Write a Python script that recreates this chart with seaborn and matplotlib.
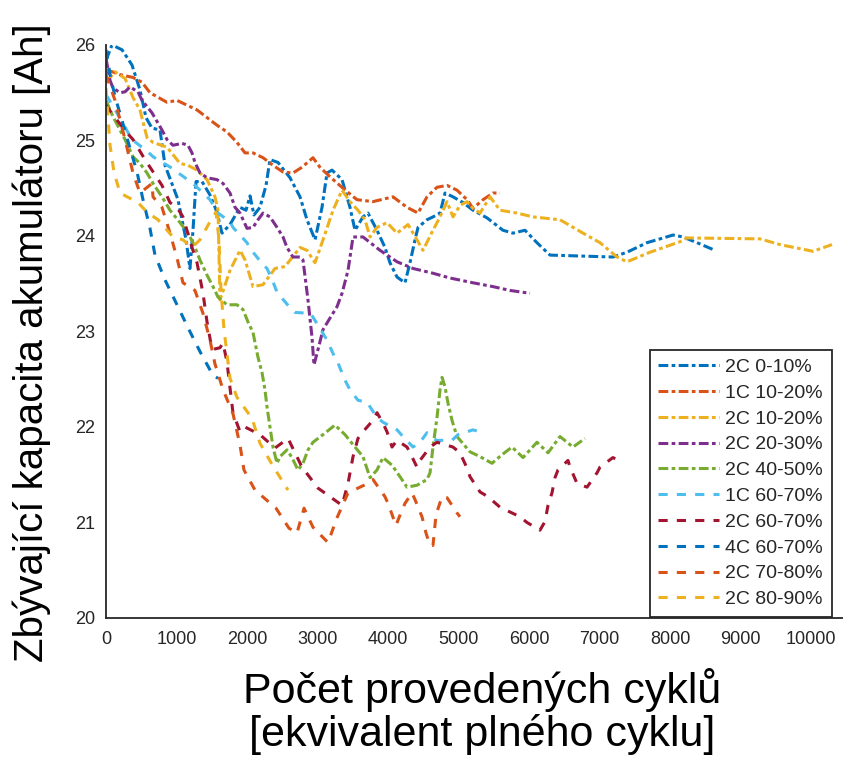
import numpy as np
import pandas as pd
import matplotlib
matplotlib.use("Agg")
import matplotlib.pyplot as plt
import seaborn as sns

# ---------------- data ----------------
series_names = ["2C 0-10%", "1C 10-20%", "2C 10-20%", "2C 20-30%", "2C 40-50%",
                "1C 60-70%", "2C 60-70%", "4C 60-70%", "2C 70-80%", "2C 80-90%"]

x_2c_0_10 = [0, 85, 227, 369, 482, 567, 652, 766, 837, 1021, 1135, 1191, 1234, 1277, 1362, 1475,
             1574, 1645, 1759, 1901, 1986, 2043, 2099, 2184, 2270, 2326, 2440, 2610, 2752, 2851,
             2965, 3064, 3135, 3206, 3348, 3461, 3532, 3645, 3716, 3844, 3957, 4028, 4128, 4241,
             4312, 4383, 4426, 4553, 4638, 4738, 4809, 4922, 5064, 5206, 5404, 5631, 5773, 5943,
             6113, 6298, 7191, 7390, 7674, 8043, 8184, 8383, 8638]
y_2c_0_10 = [25.84, 26.0, 25.95, 25.79, 25.53, 25.24, 25.13, 25.11, 24.74, 24.38, 23.96, 23.66,
             24.06, 24.57, 24.57, 24.43, 24.25, 24.03, 24.12, 24.30, 24.27, 24.42, 24.22, 24.30,
             24.53, 24.80, 24.77, 24.61, 24.41, 24.17, 23.96, 24.30, 24.66, 24.69, 24.59, 24.30,
             24.06, 24.20, 24.24, 24.06, 23.88, 23.72, 23.57, 23.51, 23.72, 23.96, 24.09, 24.17,
             24.20, 24.24, 24.45, 24.41, 24.35, 24.27, 24.19, 24.06, 24.03, 24.06, 23.93, 23.80,
             23.78, 23.83, 23.93, 24.01, 23.99, 23.93, 23.85]

x_1c_10_20 = [14, 199, 383, 511, 624, 865, 1007, 1149, 1291, 1433, 1574, 1716, 1858, 1972, 2085,
              2227, 2369, 2511, 2652, 2780, 2936, 3035, 3177, 3362, 3560, 3787, 4071, 4270, 4426,
              4553, 4695, 4837, 4979, 5121, 5206, 5348, 5489, 5589]
y_1c_10_20 = [25.74, 25.69, 25.66, 25.61, 25.50, 25.40, 25.42, 25.37, 25.32, 25.24, 25.16, 25.09,
              24.98, 24.87, 24.87, 24.82, 24.74, 24.67, 24.66, 24.72, 24.82, 24.72, 24.62, 24.50,
              24.38, 24.36, 24.41, 24.30, 24.24, 24.41, 24.51, 24.53, 24.48, 24.38, 24.29, 24.38,
              24.45, 24.45]

x_2c_10_20 = [0, 128, 270, 383, 482, 582, 667, 865, 1050, 1163, 1291, 1433, 1546, 1589, 1617, 1759,
              1901, 1972, 2085, 2227, 2397, 2539, 2752, 2851, 2965, 3078, 3220, 3348, 3461, 3574,
              3674, 3745, 3844, 3986, 4128, 4284, 4411, 4496, 4638, 4738, 4837, 4922, 5021, 5121,
              5206, 5305, 5447, 5589, 5830, 6057, 6440, 6766, 7007, 7248, 7390, 7716, 8142, 8241,
              9277, 9560, 10028, 10298]
y_2c_10_20 = [25.61, 25.72, 25.65, 25.45, 25.32, 25.03, 24.98, 24.93, 24.76, 24.74, 24.69, 24.59,
              24.41, 24.27, 23.33, 23.64, 23.85, 23.75, 23.47, 23.49, 23.66, 23.68, 23.88, 23.85,
              23.72, 23.96, 24.27, 24.48, 24.36, 24.27, 24.17, 23.99, 24.09, 24.14, 24.03, 24.12,
              23.96, 23.85, 24.06, 24.20, 24.36, 24.20, 24.32, 24.36, 24.29, 24.24, 24.41, 24.27,
              24.24, 24.20, 24.17, 24.03, 23.93, 23.78, 23.73, 23.83, 23.94, 23.98, 23.97, 23.91,
              23.84, 23.91]

x_2c_20_30 = [0, 57, 99, 199, 270, 340, 454, 511, 652, 794, 865, 950, 1078, 1163, 1220, 1262, 1333,
              1433, 1574, 1660, 1759, 1830, 1901, 2000, 2085, 2156, 2227, 2326, 2426, 2511, 2567,
              2652, 2752, 2794, 2865, 2922, 2950, 3007, 3078, 3177, 3277, 3348, 3433, 3504, 3645,
              3887, 4128, 4355, 4638, 4879, 5206, 5489, 5730, 6014]
y_2c_20_30 = [25.86, 25.63, 25.55, 25.50, 25.51, 25.56, 25.51, 25.42, 25.29, 25.11, 25.01, 24.95,
              24.97, 24.95, 24.87, 24.77, 24.66, 24.61, 24.59, 24.55, 24.45, 24.30, 24.24, 24.08,
              24.09, 24.17, 24.24, 24.20, 24.09, 23.99, 23.88, 23.78, 23.78, 23.75, 23.33, 22.94,
              22.65, 22.81, 23.02, 23.14, 23.26, 23.40, 23.64, 23.99, 23.99, 23.85, 23.73, 23.66,
              23.61, 23.56, 23.51, 23.47, 23.43, 23.40]

x_2c_40_50 = [0, 99, 199, 270, 383, 482, 582, 667, 794, 908, 1050, 1163, 1234, 1333, 1433, 1518,
              1589, 1716, 1858, 1943, 2014, 2085, 2156, 2213, 2255, 2284, 2326, 2369, 2426, 2468,
              2567, 2638, 2723, 2794, 2865, 2936, 3078, 3248, 3390, 3532, 3645, 3745, 3844, 3929,
              4057, 4170, 4270, 4411, 4553, 4596, 4638, 4695, 4738, 4766, 4809, 4851, 4908, 4979,
              5163, 5305, 5475, 5617, 5759, 5915, 6014, 6113, 6270, 6440, 6624, 6794]
y_2c_40_50 = [25.42, 25.25, 25.11, 25.01, 24.83, 24.76, 24.66, 24.55, 24.41, 24.27, 24.14, 24.03,
              23.93, 23.75, 23.59, 23.47, 23.36, 23.28, 23.28, 23.23, 23.10, 22.99, 22.73, 22.57,
              22.39, 22.21, 22.00, 21.79, 21.62, 21.69, 21.76, 21.68, 21.55, 21.62, 21.76, 21.84,
              21.92, 22.02, 21.92, 21.79, 21.69, 21.47, 21.55, 21.68, 21.60, 21.48, 21.37, 21.39,
              21.45, 21.52, 21.79, 22.10, 22.39, 22.52, 22.42, 22.25, 22.07, 21.90, 21.74, 21.69,
              21.62, 21.71, 21.79, 21.68, 21.76, 21.84, 21.73, 21.90, 21.79, 21.88]

x_1c_60_70 = [0, 170, 369, 596, 667, 936, 1007, 1234, 1291, 1475, 1589, 1759, 1801, 2000, 2043,
              2227, 2284, 2369, 2426, 2610, 2681, 2894, 2936, 3078, 3135, 3220, 3291, 3390, 3461,
              3574, 3702, 3844, 3929, 4128, 4213, 4355, 4454, 4553, 4638, 4695, 4908, 4993, 5206,
              5348]
y_1c_60_70 = [25.48, 25.27, 25.01, 24.88, 24.83, 24.71, 24.67, 24.55, 24.51, 24.38, 24.24, 24.15,
              24.09, 23.93, 23.87, 23.70, 23.66, 23.52, 23.41, 23.25, 23.20, 23.19, 23.15, 22.98,
              22.91, 22.77, 22.67, 22.49, 22.39, 22.28, 22.26, 22.10, 22.05, 21.97, 21.90, 21.79,
              21.84, 21.94, 21.88, 21.86, 21.86, 21.92, 21.97, 21.94]

x_2c_60_70 = [0, 128, 298, 383, 553, 723, 794, 908, 1007, 1092, 1220, 1291, 1376, 1433, 1504, 1617,
              1660, 1716, 1759, 1801, 1901, 1972, 2184, 2397, 2582, 2780, 3007, 3291, 3348, 3433,
              3504, 3574, 3645, 3787, 3844, 3929, 3986, 4057, 4128, 4270, 4312, 4411, 4454, 4596,
              4695, 4922, 5021, 5121, 5163, 5305, 5418, 5589, 5872, 5972, 6156, 6227, 6270, 6326,
              6369, 6411, 6553, 6582, 6681, 6823, 6965, 7007, 7191, 7333]
y_2c_60_70 = [25.37, 25.24, 25.08, 25.01, 24.80, 24.61, 24.53, 24.35, 24.30, 24.20, 23.88, 23.72,
              23.40, 23.10, 22.81, 22.83, 22.88, 22.68, 22.41, 22.15, 21.95, 22.00, 21.92, 21.78,
              21.88, 21.58, 21.36, 21.21, 21.18, 21.41, 21.69, 21.88, 21.95, 22.07, 22.15, 22.04,
              21.95, 21.79, 21.86, 21.79, 21.73, 21.58, 21.65, 21.79, 21.84, 21.79, 21.73, 21.57,
              21.48, 21.32, 21.27, 21.16, 21.06, 21.00, 20.92, 21.01, 21.18, 21.31, 21.47, 21.55,
              21.65, 21.58, 21.41, 21.37, 21.52, 21.58, 21.68, 21.62]

x_4c_60_70 = [0, 57, 128, 227, 340, 440, 525, 624, 695, 837, 1007, 1163, 1333, 1518, 1589]
y_4c_60_70 = [25.95, 25.69, 25.46, 25.21, 24.92, 24.67, 24.38, 24.08, 23.80, 23.54, 23.28, 23.04,
              22.79, 22.54, 22.51]

x_2c_70_80 = [0, 128, 270, 383, 482, 652, 667, 794, 908, 1007, 1092, 1262, 1376, 1475, 1546, 1660,
              1801, 1901, 1957, 2113, 2411, 2596, 2709, 2809, 2936, 3149, 3277, 3433, 3461, 3716,
              3787, 3957, 4000, 4113, 4199, 4241, 4340, 4383, 4482, 4539, 4596, 4638, 4681, 4766,
              4837, 4979, 5021]
y_2c_70_80 = [25.69, 25.42, 25.01, 24.66, 24.45, 24.55, 24.41, 24.30, 24.03, 23.77, 23.51, 23.43,
              23.19, 22.91, 22.66, 22.39, 22.14, 21.81, 21.55, 21.34, 21.15, 20.94, 20.89, 21.15,
              20.95, 20.79, 21.05, 21.31, 21.32, 21.41, 21.45, 21.27, 21.20, 20.97, 21.13, 21.20,
              21.31, 21.24, 21.06, 20.89, 20.76, 20.76, 21.08, 21.27, 21.26, 21.10, 21.06]

x_2c_80_90 = [0, 57, 113, 199, 454, 582, 738, 950, 1092, 1220, 1333, 1475, 1560, 1603, 1631, 1674,
              1759, 1858, 2071, 2184, 2369, 2582]
y_2c_80_90 = [25.55, 24.95, 24.67, 24.45, 24.35, 24.25, 24.17, 23.99, 23.96, 23.88, 23.96, 24.15,
              24.25, 23.96, 23.43, 23.02, 22.51, 22.31, 22.09, 21.83, 21.59, 21.34]

x_ticks = [0, 1000, 2000, 3000, 4000, 5000, 6000, 7000, 8000, 9000, 10000]
y_ticks = [20, 21, 22, 23, 24, 25, 26]

x_label = "Počet provedených cyklů\n[ekvivalent plného cyklu]"
y_label = "Zbývající kapacita akumulátoru [Ah]"

# ---------------- styling ----------------
colors = ["#0072BD", "#D95319", "#EDB120", "#7E2F8E", "#77AC30",
          "#4DBEEE", "#A2142F", "#0072BD", "#D95319", "#EDB120"]
dash_dot = (3.2, 1.1, 1.2, 1.1)
dashed = (3.0, 3.0)
styles = [dash_dot] * 5 + [dashed] * 5

xs = [x_2c_0_10, x_1c_10_20, x_2c_10_20, x_2c_20_30, x_2c_40_50,
      x_1c_60_70, x_2c_60_70, x_4c_60_70, x_2c_70_80, x_2c_80_90]
ys = [y_2c_0_10, y_1c_10_20, y_2c_10_20, y_2c_20_30, y_2c_40_50,
      y_1c_60_70, y_2c_60_70, y_4c_60_70, y_2c_70_80, y_2c_80_90]

frames = [pd.DataFrame({"x": x, "y": y, "series": n}) for n, x, y in zip(series_names, xs, ys)]
df = pd.concat(frames, ignore_index=True)

sns.set_theme(style="white")
plt.rcParams["font.family"] = ["Liberation Sans", "DejaVu Sans"]
plt.rcParams["text.color"] = "#000000"

W, H = 843, 758
fig = plt.figure(figsize=(W / 100, H / 100), dpi=100)
ax_left, ax_right = 106 / W, 843 / W
ax_top, ax_bottom = 1 - 45 / H, 1 - 618 / H
ax = fig.add_axes([ax_left, ax_bottom, ax_right - ax_left, ax_top - ax_bottom])

sns.lineplot(data=df, x="x", y="y", hue="series", style="series",
             hue_order=series_names, style_order=series_names,
             palette=dict(zip(series_names, colors)),
             dashes=dict(zip(series_names, styles)),
             estimator=None, sort=False, linewidth=2.2, ax=ax)

ax.set_xlim(0, 10454)
ax.set_ylim(20, 26)
ax.set_xticks(x_ticks)
ax.set_yticks(y_ticks)
ax.set_xticklabels([str(v) for v in x_ticks])
ax.set_yticklabels([str(v) for v in y_ticks])
ax.tick_params(axis="both", direction="in", length=5, width=1.0, color="#262626",
               labelcolor="#262626", labelsize=13)
ax.tick_params(axis="x", pad=9)
ax.tick_params(axis="y", pad=8)
for s in ["top", "right"]:
    ax.spines[s].set_visible(False)
for s in ["left", "bottom"]:
    ax.spines[s].set_color("#262626")
    ax.spines[s].set_linewidth(1.3)
ax.grid(False)

ax.set_xlabel(x_label, fontsize=31, linespacing=1.05, color="#000000")
ax.set_ylabel(y_label, fontsize=29, color="#000000")
ax.xaxis.set_label_coords(0.51, -0.088)
ax.yaxis.set_label_coords(-0.075, 0.48)

sns.move_legend(ax, "lower right", bbox_to_anchor=(0.985, 0.002), title=None,
                frameon=True, fontsize=14, handlelength=3.1, handletextpad=0.35,
                labelspacing=0.42, borderpad=0.45, borderaxespad=0.0, fancybox=False)
leg = ax.get_legend()
leg.get_frame().set_edgecolor("#262626")
leg.get_frame().set_linewidth(1.3)
leg.get_frame().set_alpha(1.0)
for t in leg.get_texts():
    t.set_color("#262626")

fig.savefig("out.png", dpi=100)
